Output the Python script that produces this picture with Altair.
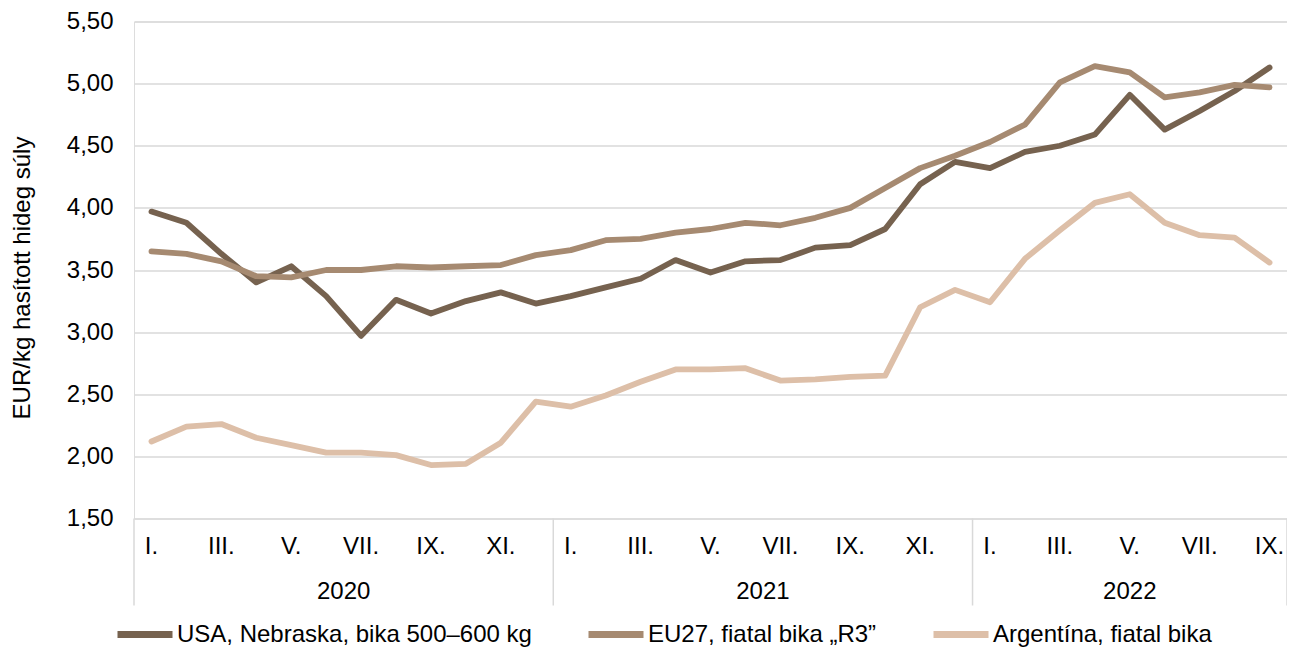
import altair as alt
import pandas as pd

# ---- data ----
series_names = ["USA, Nebraska, bika 500–600 kg", "EU27, fiatal bika „R3”", "Argentína, fiatal bika"]
series_colors = ["#76624F", "#A68A71", "#DDBFA8"]

usa = [3.97, 3.88, 3.63, 3.40, 3.53, 3.29, 2.97, 3.26, 3.15, 3.25, 3.32, 3.23,
       3.29, 3.36, 3.43, 3.58, 3.48, 3.57, 3.58, 3.68, 3.70, 3.83, 4.19, 4.37,
       4.32, 4.45, 4.50, 4.59, 4.91, 4.63, 4.78, 4.94, 5.13]
eu = [3.65, 3.63, 3.57, 3.45, 3.44, 3.50, 3.50, 3.53, 3.52, 3.53, 3.54, 3.62,
      3.66, 3.74, 3.75, 3.80, 3.83, 3.88, 3.86, 3.92, 4.00, 4.16, 4.32, 4.42,
      4.53, 4.67, 5.01, 5.14, 5.09, 4.89, 4.93, 4.99, 4.97]
arg = [2.12, 2.24, 2.26, 2.15, 2.09, 2.03, 2.03, 2.01, 1.93, 1.94, 2.11, 2.44,
       2.40, 2.49, 2.60, 2.70, 2.70, 2.71, 2.61, 2.62, 2.64, 2.65, 3.20, 3.34,
       3.24, 3.59, 3.82, 4.04, 4.11, 3.88, 3.78, 3.76, 3.56]

month_tick_idx = [0, 2, 4, 6, 8, 10, 12, 14, 16, 18, 20, 22, 24, 26, 28, 30, 32]
month_tick_labels = ["I.", "III.", "V.", "VII.", "IX.", "XI.",
                     "I.", "III.", "V.", "VII.", "IX.", "XI.",
                     "I.", "III.", "V.", "VII.", "IX."]
year_labels = ["2020", "2021", "2022"]
year_centers = [5.5, 17.5, 28.0]
year_bounds = [-0.5, 11.5, 23.5, 32.5]
y_ticks = [1.5, 2.0, 2.5, 3.0, 3.5, 4.0, 4.5, 5.0, 5.5]

# ---- tables ----
rows = []
for name, vals in zip(series_names, [usa, eu, arg]):
    for i, v in enumerate(vals):
        rows.append({"series": name, "idx": i, "value": v})
df = pd.DataFrame(rows)
months_df = pd.DataFrame({"idx": month_tick_idx, "label": month_tick_labels})
years_df = pd.DataFrame({"idx": year_centers, "label": year_labels})
bounds_df = pd.DataFrame({"idx": year_bounds})

FONT = "Liberation Sans"
W, H = 1153, 497

xscale = alt.Scale(domain=[-0.5, 32.5], nice=False, zero=False)

lines = alt.Chart(df).mark_line(strokeWidth=5.8, strokeCap="round", strokeJoin="round").encode(
    x=alt.X("idx:Q", scale=xscale, axis=None),
    y=alt.Y("value:Q",
            scale=alt.Scale(domain=[1.5, 5.5], nice=False, zero=False),
            axis=alt.Axis(values=y_ticks, grid=True, gridColor="#D9D9D9", gridWidth=1.3,
                          domain=False, ticks=False, labelPadding=21,
                          labelExpr="replace(format(datum.value, '.2f'), '.', ',')",
                          labelFont=FONT, labelFontSize=24, labelColor="#000000",
                          title="EUR/kg hasított hideg súly", titleFont=FONT,
                          titleFontSize=24, titleFontWeight="normal", titleColor="#000000",
                          titleAngle=-90, titleX=-112, titleY=256, titleAlign="center",
                          titleBaseline="middle")),
    color=alt.Color("series:N",
                    scale=alt.Scale(domain=series_names, range=series_colors),
                    legend=alt.Legend(title=None, orient="none", legendX=-20, legendY=582,
                                      direction="horizontal", columns=3,
                                      symbolType="stroke", symbolSize=3025,
                                      symbolStrokeWidth=7, labelOffset=1,
                                      columnPadding=42, labelFont=FONT, labelFontSize=24,
                                      labelColor="#000000", labelLimit=600)),
    order="idx:Q",
)

seps = alt.Chart(bounds_df).mark_rule(color="#D9D9D9", strokeWidth=1.5).encode(
    x=alt.X("idx:Q", scale=xscale),
    y=alt.value(H),
    y2=alt.value(584),
)

month_text = alt.Chart(months_df).mark_text(font=FONT, fontSize=24, color="#000000",
                                            align="center", baseline="middle").encode(
    x=alt.X("idx:Q", scale=xscale),
    y=alt.value(525.5),
    text="label:N",
)

year_text = alt.Chart(years_df).mark_text(font=FONT, fontSize=24, color="#000000",
                                          align="center", baseline="middle").encode(
    x=alt.X("idx:Q", scale=xscale),
    y=alt.value(570.5),
    text="label:N",
)

chart = alt.layer(lines, seps, month_text, year_text).properties(
    width=W, height=H,
    autosize=alt.AutoSizeParams(type="none"),
    padding={"left": 126, "top": 13.5, "right": 0, "bottom": 134},
).configure_view(stroke=None).configure(background="#FFFFFF")

chart.save("out.html", embed_options={"renderer": "svg", "actions": False})
